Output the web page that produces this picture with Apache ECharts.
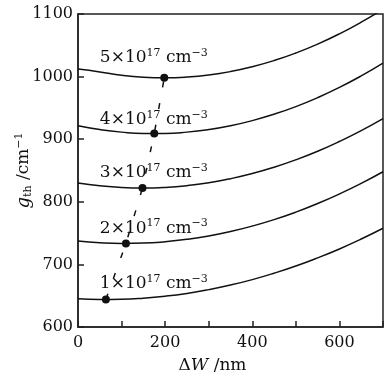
<!DOCTYPE html>
<html>
<head>
<meta charset="utf-8">
<script src="https://cdn.jsdelivr.net/npm/echarts@6/dist/echarts.min.js"></script>
<style>
  html, body { margin: 0; padding: 0; background: #fff; }
  #chart { width: 388px; height: 377px; }
</style>
</head>
<body>
<div id="chart"></div>
<script>
// ΔW sample points (nm)
const xNm = [0, 50, 100, 150, 200, 250, 300, 350, 400, 450, 500, 550, 600, 650, 700];
// g_th (cm^-1)
const g1 = [645.2, 644.1, 644.4, 646.1, 649.2, 653.7, 659.7, 667, 675.7, 685.9, 697.4, 710.4, 724.7, 740.5, 757.7];
const g2 = [737.5, 734.7, 733.5, 734, 736.2, 740, 745.4, 752.5, 761.2, 771.5, 783.5, 797.2, 812.5, 829.4, 848];
const g3 = [830, 825.5, 822.8, 822, 823, 825.8, 830.4, 836.9, 845.1, 855.2, 867.1, 880.8, 896.4, 913.7, 932.9];
const g4 = [921.5, 915.4, 911.3, 909.3, 909.3, 911.3, 915.4, 921.5, 929.7, 939.9, 952.1, 966.4, 982.7, 1001.1, 1021.5];
const g5 = [1012, 1007.5, 1002.2, 999, 998, 999.2, 1002.5, 1008, 1015.7, 1025.6, 1037.7, 1051.9, 1068.3, 1086.9, 1107.6];
// minimum points joined by the dashed line
const minX = [64, 110, 148, 175, 198];
const minG = [644, 733.5, 822, 909, 998];
// doping labels (x 10^17 cm^-3)
const doping = ['1', '2', '3', '4', '5'];

const curves = [g1, g2, g3, g4, g5];
const labelY = [670, 758, 846, 931, 1031];
const serif = 'DejaVu Serif';

const chart = echarts.init(document.getElementById('chart'));

const curveSeries = curves.map((g, i) => ({
  type: 'line',
  data: xNm.map((x, j) => [x, g[j]]),
  smooth: true,
  showSymbol: false,
  lineStyle: { color: '#111', width: 1.5 },
  z: 2,
  markPoint: {
    symbol: 'circle',
    symbolSize: 1,
    itemStyle: { color: 'rgba(0,0,0,0)' },
    data: [{ coord: [174, labelY[i]] }],
    label: {
      show: true,
      position: 'inside',
      formatter: doping[i] + '×10{sup|17} cm{sup|−3}',
      color: '#111',
      fontFamily: serif,
      fontSize: 17,
      rich: {
        sup: { fontSize: 11, fontFamily: serif, color: '#111', padding: [0, 0, 9, 0] }
      }
    }
  }
}));

const option = {
  animation: false,
  backgroundColor: '#fff',
  grid: {
    left: 78, right: 5, top: 14, bottom: 50,
    outerBoundsMode: 'none',
    show: true, borderColor: '#222', borderWidth: 1.5
  },
  xAxis: {
    type: 'value',
    min: 0, max: 700, interval: 100,
    name: '{d|Δ}{i|W} /nm',
    nameLocation: 'middle',
    nameGap: 30,
    nameMoveOverlap: false,
    nameTextStyle: {
      color: '#111', fontFamily: serif, fontSize: 17, padding: [0, 36, 0, 0],
      rich: {
        d: { fontFamily: serif, fontSize: 17, color: '#111' },
        i: { fontFamily: serif, fontSize: 17, color: '#111', fontStyle: 'italic' }
      }
    },
    axisLine: { show: true, lineStyle: { color: '#222', width: 1.5 } },
    axisTick: { inside: true, length: 6, lineStyle: { color: '#222', width: 1.5 } },
    splitLine: { show: false },
    axisLabel: {
      color: '#111', fontFamily: serif, fontSize: 16, margin: 8,
      formatter: v => (v % 200 === 0 ? String(v) : '')
    }
  },
  yAxis: {
    type: 'value',
    min: 600, max: 1100, interval: 100,
    name: '{g|g}{sub|th} /cm{sup|−1}',
    nameLocation: 'middle',
    nameRotate: 90,
    nameGap: 44,
    nameMoveOverlap: false,
    nameTextStyle: {
      color: '#111', fontFamily: serif, fontSize: 17,
      rich: {
        g: { fontFamily: serif, fontSize: 18, color: '#111', fontStyle: 'italic' },
        sub: { fontFamily: serif, fontSize: 11, color: '#111', padding: [8, 0, 0, 0] },
        sup: { fontFamily: serif, fontSize: 11, color: '#111', padding: [0, 0, 9, 0] }
      }
    },
    axisLine: { show: true, lineStyle: { color: '#222', width: 1.5 } },
    axisTick: { inside: true, length: 6, lineStyle: { color: '#222', width: 1.5 } },
    splitLine: { show: false },
    axisLabel: {
      color: '#111', fontFamily: serif, fontSize: 16, margin: 5,
      formatter: v => String(v)
    }
  },
  series: curveSeries.concat([{
    type: 'line',
    data: minX.map((x, j) => [x, minG[j]]),
    symbol: 'circle',
    symbolSize: 8,
    itemStyle: { color: '#111' },
    lineStyle: { color: '#111', width: 1.5, type: [6, 16] },
    z: 3
  }])
};

chart.setOption(option);
</script>
</body>
</html>
